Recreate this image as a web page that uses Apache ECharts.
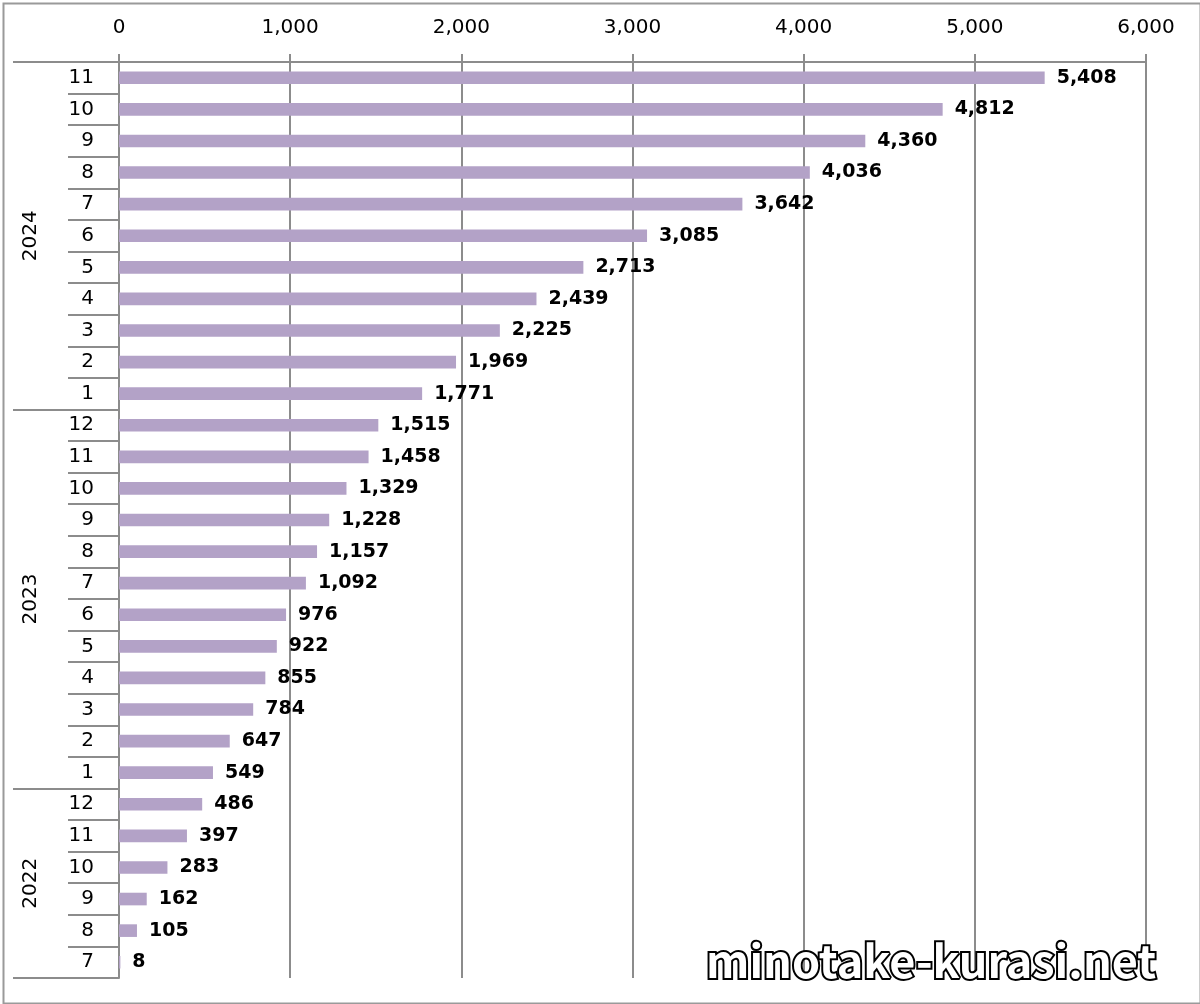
<!DOCTYPE html>
<html>
<head>
<meta charset="utf-8">
<script src="https://cdn.jsdelivr.net/npm/echarts@6/dist/echarts.min.js"></script>
<style>
html,body{margin:0;padding:0;background:#fff;}
#chart{width:1200px;height:1004px;}
</style>
</head>
<body>
<div id="chart"></div>
<script>
// Categories, top to bottom
const years = ['2024', '2023', '2022'];
const monthsByYear = [
  ['11','10','9','8','7','6','5','4','3','2','1'],
  ['12','11','10','9','8','7','6','5','4','3','2','1'],
  ['12','11','10','9','8','7']
];
const valuesByYear = [
  [5408, 4812, 4360, 4036, 3642, 3085, 2713, 2439, 2225, 1969, 1771],
  [1515, 1458, 1329, 1228, 1157, 1092, 976, 922, 855, 784, 647, 549],
  [486, 397, 283, 162, 105, 8]
];
const xTicks = [0, 1000, 2000, 3000, 4000, 5000, 6000];
const watermark = 'minotake-kurasi.net';

const categories = [];
const values = [];
const groupStarts = [];
const yearCenters = {};
monthsByYear.forEach((ms, gi) => {
  const start = categories.length;
  groupStarts.push(start);
  ms.forEach((m, i) => { categories.push(m); values.push(valuesByYear[gi][i]); });
  yearCenters[(start + ms.length / 2)] = years[gi];
});
const n = categories.length;

const fmt = v => Number(v).toLocaleString('en-US');
const gridColor = '#8c8c8c';
const font = 'DejaVu Sans';

const chart = echarts.init(document.getElementById('chart'), null, {renderer: 'canvas'});
chart.setOption({
  animation: false,
  backgroundColor: '#fff',
  grid: {left: 119, right: 54, top: 62, bottom: 26, containLabel: false},
  xAxis: {
    type: 'value', position: 'top',
    min: xTicks[0], max: xTicks[xTicks.length - 1], interval: xTicks[1] - xTicks[0],
    axisLine: {show: true, lineStyle: {color: gridColor, width: 2}},
    axisTick: {show: true, length: 8, lineStyle: {color: gridColor, width: 2}},
    splitLine: {show: true, lineStyle: {color: gridColor, width: 2}},
    axisLabel: {formatter: fmt, fontFamily: font, fontSize: 20, color: '#000', margin: 24}
  },
  yAxis: [
    {
      type: 'category', inverse: true, data: categories, position: 'left',
      axisLine: {show: true, lineStyle: {color: gridColor, width: 2}},
      axisTick: {show: true, length: 51, lineStyle: {color: gridColor, width: 2}},
      axisLabel: {fontFamily: font, fontSize: 20, color: '#000', margin: 25},
      splitLine: {show: false}
    },
    {
      type: 'category', inverse: true, data: categories, position: 'left',
      axisLine: {show: false},
      axisTick: {show: true, length: 106, interval: (i) => groupStarts.indexOf(i) >= 0,
                 lineStyle: {color: gridColor, width: 2}},
      axisLabel: {show: false},
      splitLine: {show: false}
    },
    {
      type: 'value', inverse: true, min: 0, max: n, interval: 0.5, position: 'left',
      axisLine: {show: false}, axisTick: {show: false}, splitLine: {show: false},
      axisLabel: {
        rotate: 90, margin: 78, fontFamily: font, fontSize: 20, color: '#000',
        formatter: v => yearCenters[v] || ''
      }
    }
  ],
  series: [{
    type: 'bar', yAxisIndex: 0, data: values, barWidth: '40%',
    itemStyle: {color: '#b3a2c7'},
    label: {
      show: true, position: 'right', distance: 12, formatter: p => fmt(p.value),
      fontFamily: font, fontWeight: 'bold', fontSize: 19, color: '#000'
    }
  }],
  graphic: [
    {type: 'rect', left: 1, top: 1, silent: true, z: -10,
     shape: {width: 1197, height: 1000}, style: {fill: 'none', stroke: '#9a9a9a', lineWidth: 2}},
    {type: 'text', left: 704, top: 936, z: 100, silent: true,
     style: {text: watermark, font: 'bold 45px "Noto Sans CJK JP"', fill: '#fff', stroke: '#000', lineWidth: 4}}
  ]
});
</script>
</body>
</html>
